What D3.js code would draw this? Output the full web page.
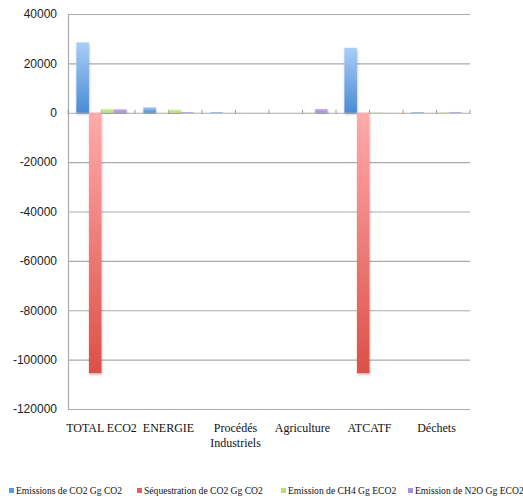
<!DOCTYPE html>
<html>
<head>
<meta charset="utf-8">
<script src="https://cdn.jsdelivr.net/npm/d3@7"></script>
<style>
  html, body { margin: 0; padding: 0; background: #fff; }
  svg { display: block; }
</style>
</head>
<body>
<svg id="chart" width="523" height="501"></svg>
<script>
// Emission / séquestration par secteur (Gg)
const categories = ["TOTAL ECO2", "ENERGIE", "Procédés Industriels", "Agriculture", "ATCATF", "Déchets"];
const seriesNames = ["Emissions de CO2 Gg CO2", "Séquestration de CO2 Gg CO2", "Emission de CH4 Gg ECO2", "Emission de N2O Gg ECO2"];
const emissionsCO2 = [28500, 2200, 250, 0, 26300, 250];
const sequestrationCO2 = [-105500, 0, 0, 0, -105500, 0];
const emissionCH4 = [1500, 1200, 50, 150, 200, 200];
const emissionN2O = [1400, 300, 50, 1500, 50, 300];
const yTicks = [40000, 20000, 0, -20000, -40000, -60000, -80000, -100000, -120000];

const seriesValues = [emissionsCO2, sequestrationCO2, emissionCH4, emissionN2O];
const colors = [
  { top: "#a9cdf7", bottom: "#4a8bd6" },
  { top: "#ffaaaa", bottom: "#dc5048" },
  { top: "#d6eea0", bottom: "#b4dc6c" },
  { top: "#c6b2ec", bottom: "#a48ad8" }
];
const legendColors = ["#5a9be0", "#e46060", "#b8e07a", "#a990da"];

const svg = d3.select("#chart");
const plotLeft = 68, plotRight = 470, plotTop = 14, plotBottom = 409;

const x0 = d3.scaleBand().domain(categories).range([plotLeft, plotRight])
  .paddingInner(0.25).paddingOuter(0.125);
const x1 = d3.scaleBand().domain(d3.range(seriesNames.length)).range([0, x0.bandwidth()]);
const y = d3.scaleLinear().domain([-120000, 40000]).range([plotBottom, plotTop]);

const defs = svg.append("defs");
colors.forEach((c, i) => {
  const g = defs.append("linearGradient").attr("id", "grad" + i)
    .attr("x1", 0).attr("y1", 0).attr("x2", 0).attr("y2", 1);
  g.append("stop").attr("offset", "0%").attr("stop-color", c.top);
  g.append("stop").attr("offset", "100%").attr("stop-color", c.bottom);
});
const shadow = defs.append("filter").attr("id", "shadow")
  .attr("x", "-30%").attr("y", "-5%").attr("width", "160%").attr("height", "115%");
shadow.append("feDropShadow").attr("dx", 0.5).attr("dy", 1.5)
  .attr("stdDeviation", 1.2).attr("flood-color", "#000").attr("flood-opacity", 0.25);

// horizontal gridlines
svg.append("g").selectAll("line").data(yTicks).join("line")
  .attr("x1", plotLeft).attr("x2", plotRight)
  .attr("y1", d => y(d) + 0.5).attr("y2", d => y(d) + 0.5)
  .attr("stroke", "#ababab").attr("stroke-width", 1.2);

// vertical axis line
svg.append("line")
  .attr("x1", plotLeft + 0.5).attr("x2", plotLeft + 0.5)
  .attr("y1", plotTop).attr("y2", plotBottom + 1)
  .attr("stroke", "#ababab").attr("stroke-width", 1.2);

// tick marks along the zero line
const step = x0.step();
const tickXs = d3.range(categories.length * 2 + 1).map(k => plotLeft + k * step / 2);
svg.append("g").selectAll("line").data(tickXs).join("line")
  .attr("x1", d => d).attr("x2", d => d)
  .attr("y1", y(0) - 3).attr("y2", y(0) + 1)
  .attr("stroke", "#9a9a9a").attr("stroke-width", 1);

// y-axis labels (plain hyphen for negatives)
const yAxis = d3.axisLeft(y).tickValues(yTicks).tickSize(0).tickPadding(11)
  .tickFormat(d => String(d));
const yg = svg.append("g").attr("transform", `translate(${plotLeft},0)`).call(yAxis);
yg.select(".domain").remove();
yg.selectAll("text").attr("font-family", "Liberation Sans, Arial, sans-serif")
  .attr("font-size", 12).attr("fill", "#222");

// bars
const groups = svg.append("g").selectAll("g").data(categories).join("g")
  .attr("transform", d => `translate(${x0(d)},0)`);
groups.selectAll("rect")
  .data((d, ci) => seriesValues.map((vals, si) => ({ si, v: vals[ci] })))
  .join("rect")
  .attr("x", d => x1(d.si))
  .attr("width", x1.bandwidth())
  .attr("y", d => y(Math.max(0, d.v)))
  .attr("height", d => Math.abs(y(d.v) - y(0)))
  .attr("fill", d => `url(#grad${d.si})`)
  .attr("filter", "url(#shadow)");

// category labels
const xLabels = svg.append("g").selectAll("text").data(categories).join("text")
  .attr("x", d => x0(d) + x0.bandwidth() / 2)
  .attr("y", 432)
  .attr("text-anchor", "middle")
  .attr("font-family", "Liberation Serif, Times New Roman, serif")
  .attr("font-size", 12).attr("fill", "#111");
xLabels.each(function(d) {
  const t = d3.select(this);
  const words = d === "Procédés Industriels" ? ["Procédés", "Industriels"] : [d];
  words.forEach((w, i) => {
    t.append("tspan").attr("x", x0(d) + x0.bandwidth() / 2)
      .attr("dy", i === 0 ? 0 : 15).text(w);
  });
});

// legend
const legendX = [9, 137, 281, 408];
const legend = svg.append("g").selectAll("g").data(seriesNames).join("g")
  .attr("transform", (d, i) => `translate(${legendX[i]},494)`);
legend.append("rect").attr("x", 0).attr("y", -6).attr("width", 5).attr("height", 5)
  .attr("fill", (d, i) => legendColors[i]);
legend.append("text").attr("x", 7).attr("y", 0)
  .attr("font-family", "Liberation Serif, Times New Roman, serif")
  .attr("font-size", 9.6).attr("fill", "#111")
  .text(d => d);
</script>
</body>
</html>
